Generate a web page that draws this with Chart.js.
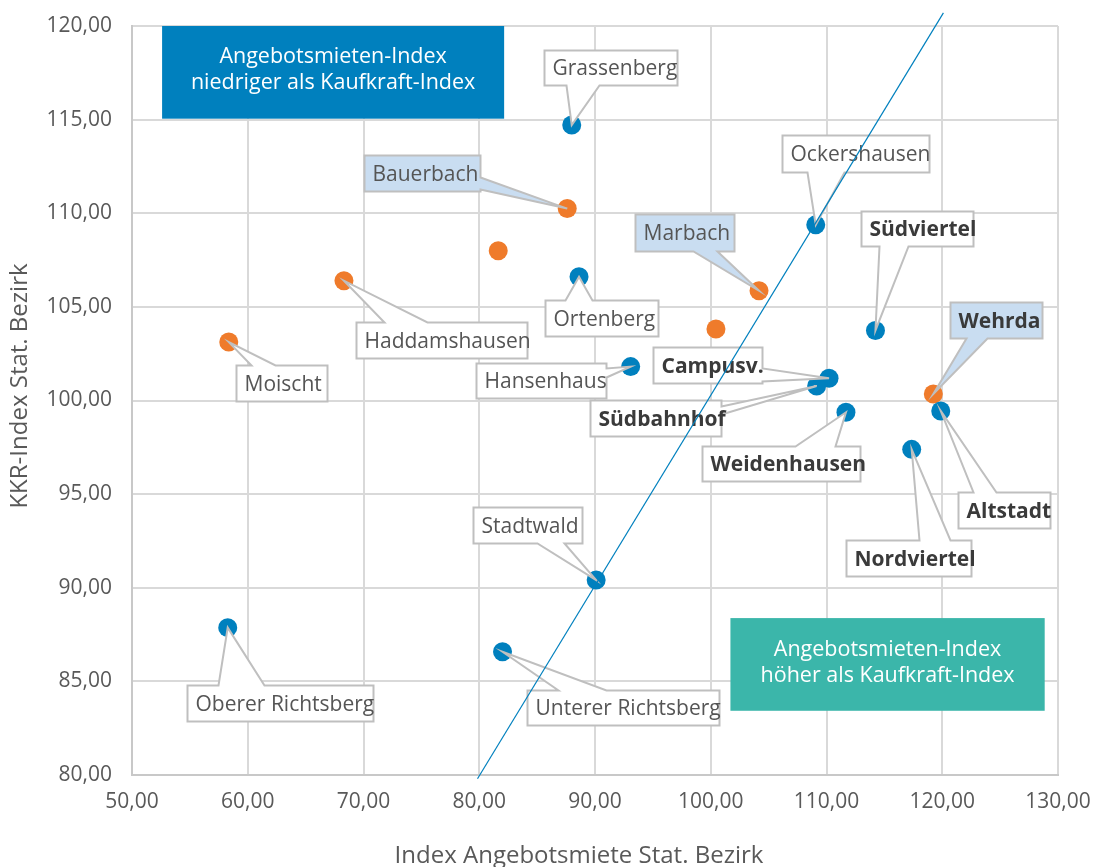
<!DOCTYPE html>
<html>
<head>
<meta charset="UTF-8">
<title>Angebotsmieten-Index vs. Kaufkraft-Index</title>
<script src="https://cdn.jsdelivr.net/npm/chart.js@4.4.1/dist/chart.umd.min.js"></script>
<style>
  html, body { margin: 0; padding: 0; background: #fff; }
  #wrap { width: 1095px; height: 867px; }
</style>
</head>
<body>
<div id="wrap"><canvas id="chart" width="1095" height="867"></canvas></div>
<script>
// Bezirke mit Kaufkraft-Index über Angebotsmieten-Index (blau)
const blueNames = ['Grassenberg', 'Ockershausen', 'Ortenberg', 'Südviertel', 'Hansenhaus', 'Campusv.',
  'Südbahnhof', 'Weidenhausen', 'Altstadt', 'Nordviertel', 'Stadtwald', 'Oberer Richtsberg', 'Unterer Richtsberg'];
const blueX = [87.99, 109.07, 88.62, 114.23, 93.08, 110.22, 109.15, 111.68, 119.87, 117.36, 90.10, 58.27, 82.01];
const blueY = [114.71, 109.38, 106.61, 103.74, 101.81, 101.19, 100.77, 99.37, 99.44, 97.39, 90.41, 87.87, 86.58];

// orange Punkte (zwei ohne Beschriftung)
const orangeNames = ['Bauerbach', null, 'Haddamshausen', 'Moischt', 'Marbach', null, 'Wehrda'];
const orangeX = [87.60, 81.64, 68.31, 58.36, 104.17, 100.45, 119.23];
const orangeY = [110.25, 108.00, 106.40, 103.12, 105.86, 103.82, 100.35];

// Diagonale
const diagX = [79.85, 120.1];
const diagY = [79.8, 120.7];

const xTitle = 'Index Angebotsmiete Stat. Bezirk';
const yTitle = 'KKR-Index Stat. Bezirk';

// styles for the labels
const boldNames = ['Südviertel', 'Wehrda', 'Campusv.', 'Südbahnhof', 'Weidenhausen', 'Altstadt', 'Nordviertel'];
const highlightNames = ['Bauerbach', 'Marbach', 'Wehrda'];

// callout box: [dx, dy, width, height, side of pointer, base a, base b] relative to the point in px
const calloutLayout = {
  'Grassenberg':        [-28, -75, 133, 35, 'bottom', 22, 55],
  'Ockershausen':       [-34, -90, 147, 37, 'bottom', 25, 62],
  'Bauerbach':          [-203, -54, 116, 36, 'right', 22, 34],
  'Marbach':            [-124, -77, 99, 37, 'bottom', 58, 82],
  'Südviertel':         [-14, -119, 112, 35, 'bottom', 18, 47],
  'Haddamshausen':      [12, 41, 171, 36, 'top', 28, 71],
  'Ortenberg':          [-34, 23, 113, 36, 'top', 20, 47],
  'Moischt':            [7, 23, 91, 36, 'top', 15, 39],
  'Hansenhaus':         [-155, -4, 130, 35, 'right', 5, 14],
  'Campusv.':           [-176, -31, 109, 36, 'right', 21, 34],
  'Südbahnhof':         [-227, 14, 131, 36, 'right', 6, 14],
  'Wehrda':             [17, -92, 92, 36, 'bottom', 16, 37],
  'Weidenhausen':       [-144, 34, 158, 35, 'top', 93, 133],
  'Altstadt':           [17, 81, 92, 36, 'top', 15, 38],
  'Nordviertel':        [-66, 91, 125, 36, 'top', 73, 104],
  'Stadtwald':          [-123, -73, 109, 36, 'bottom', 64, 91],
  'Oberer Richtsberg':  [-41, 57, 186, 36, 'top', 31, 77],
  'Unterer Richtsberg': [24, 38, 192, 35, 'top', 31, 79]
};

// shaded info boxes, in axis units
const regionBoxes = [
  { x0: 52.6, x1: 82.15, y0: 115.05, y1: 120, color: '#0080BE',
    lines: ['Angebotsmieten-Index', 'niedriger als Kaufkraft-Index'] },
  { x0: 101.7, x1: 128.85, y0: 83.43, y1: 88.38, color: '#3BB6AA',
    lines: ['Angebotsmieten-Index', 'höher als Kaufkraft-Index'] }
];

const FONT = "'Open Sans', 'DejaVu Sans', sans-serif";
const BLUE = '#0080BE';
const ORANGE = '#EF7B2B';

function toPoints(xs, ys) {
  return xs.map((x, i) => ({ x: x, y: ys[i] }));
}

function drawCallout(ctx, px, py, name) {
  const L = calloutLayout[name];
  if (!L) return;
  const [dx, dy, w, h, side, a, b] = L;
  const l = Math.round(px + dx) + 0.5, t = Math.round(py + dy) + 0.5;
  const r = l + w, btm = t + h;
  ctx.beginPath();
  ctx.moveTo(l, t);
  if (side === 'top') { ctx.lineTo(l + a, t); ctx.lineTo(px, py); ctx.lineTo(l + b, t); }
  ctx.lineTo(r, t);
  if (side === 'right') { ctx.lineTo(r, t + a); ctx.lineTo(px, py); ctx.lineTo(r, t + b); }
  ctx.lineTo(r, btm);
  if (side === 'bottom') { ctx.lineTo(l + b, btm); ctx.lineTo(px, py); ctx.lineTo(l + a, btm); }
  ctx.lineTo(l, btm);
  ctx.closePath();
  ctx.fillStyle = highlightNames.includes(name) ? '#C9DDF1' : '#FFFFFF';
  ctx.fill();
  ctx.lineWidth = 2;
  ctx.strokeStyle = '#BFBFBF';
  ctx.lineJoin = 'miter';
  ctx.stroke();

  const bold = boldNames.includes(name);
  ctx.font = (bold ? 'bold ' : '') + '21px ' + FONT;
  ctx.fillStyle = bold ? '#3A3A3A' : '#555555';
  ctx.textAlign = 'left';
  ctx.textBaseline = 'alphabetic';
  ctx.fillText(name, l + 8, t + h / 2 + 7);
}

const annotationPlugin = {
  id: 'annotations',
  beforeDatasetsDraw(chart) {
    const ctx = chart.ctx, xs = chart.scales.x, ys = chart.scales.y;
    ctx.save();
    regionBoxes.forEach(rb => {
      const l = xs.getPixelForValue(rb.x0), r = xs.getPixelForValue(rb.x1);
      const t = ys.getPixelForValue(rb.y1), b = ys.getPixelForValue(rb.y0);
      ctx.fillStyle = rb.color;
      ctx.fillRect(l, t, r - l, b - t);
      ctx.fillStyle = '#FFFFFF';
      ctx.font = '21.5px ' + FONT;
      ctx.textAlign = 'center';
      ctx.textBaseline = 'middle';
      const cx = (l + r) / 2, cy = (t + b) / 2 - 2;
      ctx.fillText(rb.lines[0], cx, cy - 13);
      ctx.fillText(rb.lines[1], cx, cy + 13);
    });
    ctx.restore();
  },
  beforeDatasetDraw(chart, args) {
    // callouts go above the dots, below the diagonal
    if (args.index !== 2) return;
    const ctx = chart.ctx;
    ctx.save();
    [[0, blueNames], [1, orangeNames]].forEach(([di, names]) => {
      const meta = chart.getDatasetMeta(di);
      names.forEach((n, i) => {
        if (n) drawCallout(ctx, meta.data[i].x, meta.data[i].y, n);
      });
    });
    ctx.restore();
  },
  afterDraw(chart) {
    const ctx = chart.ctx;
    ctx.save();
    ctx.fillStyle = '#595959';
    ctx.font = '24px ' + FONT;
    ctx.textAlign = 'center';
    ctx.textBaseline = 'alphabetic';
    ctx.fillText(xTitle, 579, 863);
    ctx.translate(27, 386);
    ctx.rotate(-Math.PI / 2);
    ctx.fillText(yTitle, 0, 0);
    ctx.restore();
  }
};

const fmt = v => v.toFixed(2).replace('.', ',');

new Chart(document.getElementById('chart').getContext('2d'), {
  type: 'scatter',
  data: {
    datasets: [
      {
        label: 'blau',
        data: toPoints(blueX, blueY),
        backgroundColor: BLUE,
        borderWidth: 0,
        pointRadius: 9.5,
        pointHoverRadius: 9.5,
        order: 1
      },
      {
        label: 'orange',
        data: toPoints(orangeX, orangeY),
        backgroundColor: ORANGE,
        borderWidth: 0,
        pointRadius: 9.5,
        pointHoverRadius: 9.5,
        order: 2
      },
      {
        label: 'Diagonale',
        type: 'line',
        data: toPoints(diagX, diagY),
        borderColor: BLUE,
        borderWidth: 1.2,
        pointRadius: 0,
        fill: false,
        clip: false,
        order: 0
      }
    ]
  },
  options: {
    responsive: false,
    animation: false,
    events: [],
    layout: { padding: { left: 0, right: 37, top: 26, bottom: 0 } },
    plugins: {
      legend: { display: false },
      tooltip: { enabled: false }
    },
    scales: {
      x: {
        type: 'linear',
        min: 50, max: 130,
        ticks: {
          stepSize: 10,
          callback: fmt,
          color: '#595959',
          font: { family: FONT, size: 21 },
          padding: 14,
          maxRotation: 0
        },
        grid: { color: '#D9D9D9', lineWidth: 2, drawTicks: false },
        border: { color: '#C8C8C8', width: 2 },
        afterFit(scale) {
          scale.height = 92;
          scale.paddingLeft = 0;
          scale.paddingRight = 0;
        }
      },
      y: {
        min: 80, max: 120,
        ticks: {
          stepSize: 5,
          callback: fmt,
          color: '#595959',
          font: { family: FONT, size: 21 },
          padding: 20
        },
        grid: { color: '#D9D9D9', lineWidth: 2, drawTicks: false },
        border: { color: '#C8C8C8', width: 2 },
        afterFit(scale) {
          scale.width = 132;
          scale.paddingTop = 0;
          scale.paddingBottom = 0;
        }
      }
    }
  },
  plugins: [annotationPlugin]
});
</script>
</body>
</html>
